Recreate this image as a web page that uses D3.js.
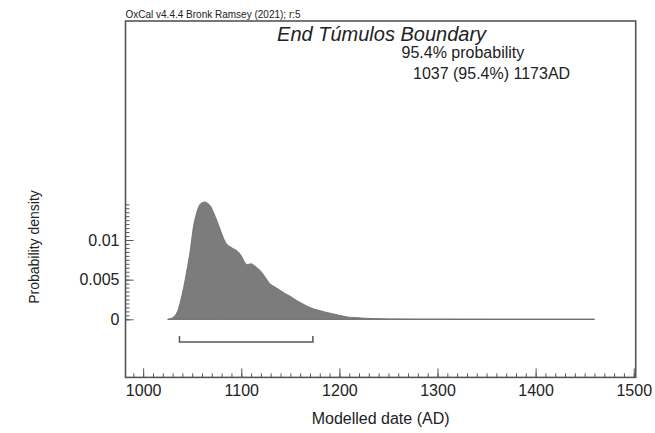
<!doctype html>
<html>
  <head>
    <meta charset="utf-8">
    <script src="https://cdn.jsdelivr.net/npm/d3@7/dist/d3.min.js"></script>
    <style>
      body { margin: 0; background: #fff; }
      text { font-family: "Liberation Sans", Arial, sans-serif; fill: #222; }
      path.density { fill: #7c7c7c; stroke: #6a6a6a; stroke-width: 0.8; }
      line.baseline { stroke: #9a9a9a; stroke-width: 1.2; }
      rect.frame { fill: none; stroke: #555; stroke-width: 1.6; }
      path.hpd { fill: none; stroke: #555; stroke-width: 1.5; }
      .axis line { stroke: #555; stroke-width: 1; }
      .axis path.domain { display: none; }
    </style>
  </head>
  <body>
    <svg width="655" height="433"></svg>
    <script>
      // posterior density of End Túmulos Boundary
      var years = [1025, 1030, 1035, 1040, 1045, 1048, 1051, 1054, 1057, 1060, 1063, 1066,
        1069, 1072, 1075, 1078, 1081, 1084, 1088, 1092, 1096, 1100, 1103, 1106, 1110,
        1113, 1117, 1121, 1125, 1129, 1134, 1139, 1144, 1150, 1156, 1162, 1168, 1174,
        1180, 1186, 1193, 1200, 1208, 1216, 1225, 1235, 1250, 1270, 1300, 1350, 1400, 1460];
      var density = [0, 0.0002, 0.0010, 0.0033, 0.0065, 0.0087, 0.0115, 0.0132, 0.0143,
        0.0147, 0.0148, 0.0146, 0.0142, 0.0134, 0.0125, 0.0115, 0.0105, 0.0097, 0.0092,
        0.0089, 0.0086, 0.0080, 0.0073, 0.0069, 0.0070, 0.0068, 0.0064, 0.0059, 0.0052,
        0.0045, 0.0041, 0.0037, 0.0033, 0.0029, 0.0024, 0.0020, 0.0016, 0.0013, 0.0011,
        0.0009, 0.0007, 0.0005, 0.0003, 0.00022, 0.00014, 0.00009, 0.00005, 0.00002,
        0.00001, 0, 0, 0];

      var hpdRange = [1037, 1173];
      var xTicks = [1000, 1100, 1200, 1300, 1400, 1500];
      var yTicks = [0, 0.005, 0.01];
      var yTickLabels = ["0", "0.005", "0.01"];

      var title = "End Túmulos Boundary";
      var probLine = "95.4% probability";
      var rangeLine = "1037 (95.4%) 1173AD";
      var credit = "OxCal v4.4.4 Bronk Ramsey (2021); r:5";

      var svg = d3.select("svg");
      var mLeft = 125.5, mRight = 635.7, mTop = 21, mBottom = 377.4;

      var x = d3.scaleLinear().domain([982, 1502]).range([mLeft, mRight]);
      var y = d3.scaleLinear().domain([0, 0.01]).range([319.3, 240]);

      var pts = years.map((yr, i) => ({yr: yr, d: density[i]}));

      // baseline under the curve
      svg.append("line")
        .attr("class", "baseline")
        .attr("x1", x(years[0])).attr("x2", x(years[years.length - 1]))
        .attr("y1", y(0)).attr("y2", y(0));

      var area = d3.area()
        .x(d => x(d.yr))
        .y0(y(0))
        .y1(d => y(d.d))
        .curve(d3.curveMonotoneX);

      svg.append("path")
        .datum(pts)
        .attr("class", "density")
        .attr("d", area);

      // 95.4% range bracket
      var by = 342;
      svg.append("path")
        .attr("class", "hpd")
        .attr("d", "M" + x(hpdRange[0]) + "," + (by - 6) + "V" + by +
          "H" + x(hpdRange[1]) + "V" + (by - 6));

      // x axis, ticks pointing inward
      var xAxis = svg.append("g")
        .attr("class", "axis")
        .attr("transform", "translate(0," + mBottom + ")")
        .call(d3.axisBottom(x).tickValues(xTicks).tickFormat(d3.format("d"))
          .tickSizeInner(-9).tickSizeOuter(0).tickPadding(7));
      xAxis.selectAll("text").style("font-size", "16px").attr("fill", "#222");

      svg.append("g")
        .attr("class", "axis")
        .attr("transform", "translate(0," + mBottom + ")")
        .call(d3.axisBottom(x).tickValues(d3.range(990, 1501, 10))
          .tickSizeInner(-4).tickSizeOuter(0).tickFormat(""));

      // y axis
      var yAxis = svg.append("g")
        .attr("class", "axis")
        .attr("transform", "translate(" + mLeft + ",0)")
        .call(d3.axisLeft(y).tickValues(yTicks).tickFormat((d, i) => yTickLabels[i])
          .tickSizeInner(-8).tickSizeOuter(0).tickPadding(6));
      yAxis.selectAll("text").style("font-size", "16px").attr("fill", "#222");

      svg.append("g")
        .attr("class", "axis")
        .attr("transform", "translate(" + mLeft + ",0)")
        .call(d3.axisLeft(y).tickValues(d3.range(0, 0.01451, 0.0005))
          .tickSizeInner(-4).tickSizeOuter(0).tickFormat(""));

      svg.append("rect")
        .attr("class", "frame")
        .attr("x", mLeft).attr("y", mTop)
        .attr("width", mRight - mLeft).attr("height", mBottom - mTop);

      // texts
      svg.append("text")
        .attr("x", mLeft).attr("y", 18)
        .style("font-size", "10px")
        .text(credit);

      svg.append("text")
        .attr("x", (mLeft + mRight) / 2 + 1).attr("y", 41)
        .attr("text-anchor", "middle")
        .style("font-size", "20px").style("font-style", "italic")
        .text(title);

      svg.append("text")
        .attr("x", 401.5).attr("y", 57.5)
        .style("font-size", "16px")
        .text(probLine);

      svg.append("text")
        .attr("x", 413).attr("y", 78.5)
        .style("font-size", "16px")
        .text(rangeLine);

      svg.append("text")
        .attr("x", (mLeft + mRight) / 2).attr("y", 424)
        .attr("text-anchor", "middle")
        .style("font-size", "16px")
        .text("Modelled date (AD)");

      svg.append("text")
        .attr("transform", "translate(39,247) rotate(-90)")
        .attr("text-anchor", "middle")
        .style("font-size", "14px")
        .text("Probability density");
    </script>
  </body>
</html>
